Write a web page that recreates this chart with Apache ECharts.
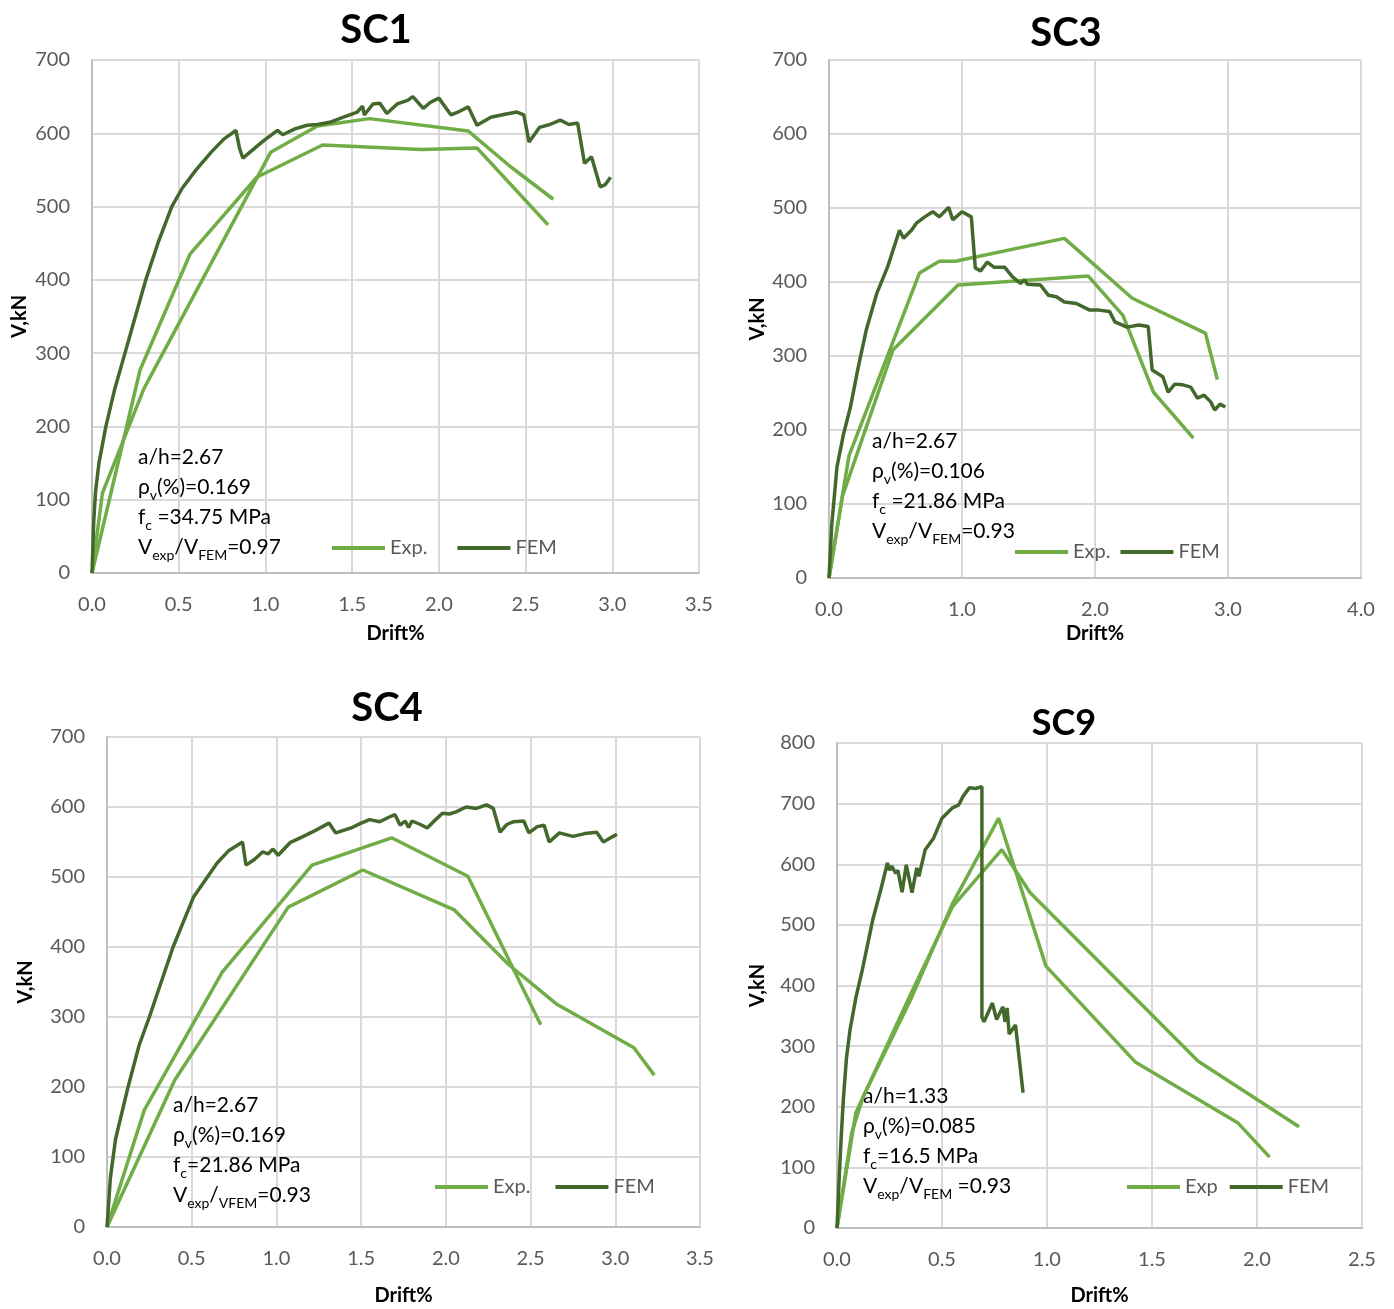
<!DOCTYPE html>
<html>
<head>
    <meta http-equiv="Content-Type" content="text/html; charset=utf-8">
    <title>SC1 SC3 SC4 SC9</title>
    <script src="https://cdn.jsdelivr.net/npm/echarts@6/dist/echarts.min.js"></script>
    <style>
        body {margin:0; background:#fff;}
    </style>
</head>
<body>
    <div id="main" style="width: 1394px;height:1309px;"></div>
    <script type="text/javascript">
        // drift (%) / shear (kN) pairs
        var sc1Exp1 = [[0,0],[0.06,109],[0.3,252],[1.03,574],[1.3,610],[1.6,620],[2.17,603],[2.41,555],[2.66,510]];
        var sc1Exp2 = [[0,0],[0.277,277],[0.565,435],[0.95,540],[1.33,584],[1.9,578],[2.22,580],[2.63,475]];
        var sc1Fem = [[0,0],[0.01,70],[0.02,110],[0.04,150],[0.08,200],[0.13,250],[0.19,300],[0.25,350],[0.31,400],
            [0.38,450],[0.46,500],[0.52,525],[0.6,550],[0.69,575],[0.76,592],[0.83,604],[0.85,580],[0.87,566],
            [0.93,578],[0.99,590],[1.07,604],[1.1,598],[1.17,606],[1.24,611],[1.3,612],[1.37,615],[1.45,622],
            [1.53,629],[1.56,637],[1.57,625],[1.62,640],[1.66,641],[1.7,627],[1.76,640],[1.82,645],[1.85,650],
            [1.91,634],[1.95,642],[2.0,648],[2.07,625],[2.12,630],[2.17,636],[2.22,611],[2.3,622],[2.38,626],
            [2.45,629],[2.49,625],[2.52,588],[2.58,608],[2.64,612],[2.7,618],[2.75,612],[2.8,614],[2.84,559],
            [2.88,568],[2.93,527],[2.96,530],[2.99,540]];

        var sc3Exp1 = [[0,0],[0.15,165],[0.68,412],[0.83,428],[0.95,428],[1.77,459],[2.28,378],[2.83,331],[2.92,268]];
        var sc3Exp2 = [[0,0],[0.1,110],[0.48,308],[0.97,396],[1.95,408],[2.21,355],[2.44,251],[2.74,189]];
        var sc3Fem = [[0,0],[0.02,70],[0.06,150],[0.11,195],[0.16,230],[0.22,285],[0.28,335],[0.36,385],[0.44,420],
            [0.53,470],[0.56,459],[0.62,470],[0.66,480],[0.72,488],[0.78,495],[0.83,488],[0.9,501],[0.93,484],
            [1.0,495],[1.07,488],[1.1,419],[1.14,415],[1.19,427],[1.24,420],[1.32,420],[1.38,407],[1.44,398],
            [1.47,403],[1.49,397],[1.59,396],[1.65,382],[1.71,380],[1.77,373],[1.86,371],[1.96,362],[2.03,362],
            [2.11,360],[2.15,346],[2.24,339],[2.33,342],[2.4,340],[2.43,281],[2.51,272],[2.55,251],[2.6,262],
            [2.66,261],[2.72,258],[2.77,243],[2.82,247],[2.87,238],[2.9,227],[2.94,235],[2.98,231]];

        var sc4Exp1 = [[0,0],[0.22,167],[0.68,364],[1.21,517],[1.68,556],[2.13,501],[2.56,289]];
        var sc4Exp2 = [[0,0],[0.4,210],[1.07,457],[1.51,510],[2.05,453],[2.37,375],[2.65,319],[3.11,256],[3.23,217]];
        var sc4Fem = [[0,0],[0.02,70],[0.05,125],[0.12,196],[0.19,260],[0.25,300],[0.39,400],[0.51,471],[0.65,520],
            [0.72,538],[0.8,550],[0.82,517],[0.87,525],[0.92,536],[0.95,533],[0.98,540],[1.01,531],[1.08,549],
            [1.15,557],[1.21,564],[1.31,577],[1.35,563],[1.4,567],[1.45,571],[1.5,577],[1.55,582],[1.61,579],
            [1.66,585],[1.7,589],[1.73,574],[1.76,580],[1.78,571],[1.8,580],[1.85,575],[1.89,570],[1.94,582],
            [1.98,591],[2.02,590],[2.06,593],[2.12,600],[2.18,598],[2.24,603],[2.28,598],[2.32,564],[2.36,575],
            [2.4,579],[2.46,580],[2.49,563],[2.54,572],[2.58,574],[2.61,550],[2.67,563],[2.75,558],[2.82,562],
            [2.89,564],[2.93,550],[2.98,557],[3.01,561]];

        var sc9Exp1 = [[0,0],[0.07,157],[0.124,216],[0.35,376],[0.55,535],[0.77,676],[0.995,432],[1.42,274],[1.91,173],[2.06,117]];
        var sc9Exp2 = [[0,0],[0.09,190],[0.35,385],[0.55,530],[0.785,624],[0.92,553],[1.72,275],[2.2,167]];
        var sc9Fem = [[0,0],[0.01,80],[0.02,150],[0.03,211],[0.045,280],[0.062,327],[0.09,380],[0.12,425],[0.17,508],
            [0.21,560],[0.24,602],[0.25,590],[0.26,597],[0.28,585],[0.29,590],[0.31,554],[0.33,599],[0.357,553],
            [0.38,594],[0.39,580],[0.42,624],[0.46,643],[0.5,676],[0.55,693],[0.58,698],[0.6,712],[0.63,726],
            [0.66,725],[0.69,728],[0.69,348],[0.7,340],[0.74,371],[0.76,344],[0.79,365],[0.8,340],[0.81,363],
            [0.82,320],[0.85,335],[0.886,223]];

        var titles = ['SC1', 'SC3', 'SC4', 'SC9'];
        var expNames = ['Exp.', 'Exp.', 'Exp.', 'Exp'];
        var xMax = [3.5, 4, 3.5, 2.5];
        var xStep = [0.5, 1, 0.5, 0.5];
        var yMax = [700, 700, 700, 800];
        // n = normal text, s = subscript
        var notes = [
            ['{n|a/h=2.67}', '{n|ρ}{s|v}{n|(%)=0.169}', '{n|f}{s|c}{n| =34.75 MPa}', '{n|V}{s|exp}{n|/V}{s|FEM}{n|=0.97}'],
            ['{n|a/h=2.67}', '{n|ρ}{s|v}{n|(%)=0.106}', '{n|f}{s|c}{n| =21.86 MPa}', '{n|V}{s|exp}{n|/V}{s|FEM}{n|=0.93}'],
            ['{n|a/h=2.67}', '{n|ρ}{s|v}{n|(%)=0.169}', '{n|f}{s|c}{n|=21.86 MPa}', '{n|V}{s|exp}{n|/}{s|VFEM}{n|=0.93}'],
            ['{n|a/h=1.33}', '{n|ρ}{s|v}{n|(%)=0.085}', '{n|f}{s|c}{n|=16.5 MPa}', '{n|V}{s|exp}{n|/V}{s|FEM}{n| =0.93}']
        ];

        var FONT = 'Lato, "Open Sans", sans-serif';
        var EXP_COLOR = '#70AD47';
        var FEM_COLOR = '#43682B';

        // layout of the four panels
        var grids = [
            {left: 92, top: 60, width: 607, height: 513, outerBoundsMode: 'none'},
            {left: 829, top: 60, width: 532, height: 518, outerBoundsMode: 'none'},
            {left: 107, top: 737, width: 593, height: 490, outerBoundsMode: 'none'},
            {left: 837, top: 743, width: 525, height: 485, outerBoundsMode: 'none'}
        ];
        var xNameGap = [51, 46, 59, 58];
        var yNameGap = [62, 61, 71, 69];
        var titlePos = [[376, 30], [1066, 33], [387, 708], [1064, 723]];
        var titleSize = [40, 40, 40, 36];
        var notePos = [[138, 442], [872, 426], [173, 1090], [863, 1081]];
        var legendPos = [[332, 538, 30], [1015, 542, 10], [435, 1177, 25], [1127, 1177, 12]];

        var allData = [
            [sc1Exp1, sc1Exp2, sc1Fem],
            [sc3Exp1, sc3Exp2, sc3Fem],
            [sc4Exp1, sc4Exp2, sc4Fem],
            [sc9Exp1, sc9Exp2, sc9Fem]
        ];

        var xAxes = [], yAxes = [], series = [], legends = [], graphics = [];
        for (var i = 0; i < 4; i++) {
            xAxes.push({
                type: 'value', gridIndex: i, min: 0, max: xMax[i], interval: xStep[i],
                name: 'Drift%', nameLocation: 'middle', nameGap: xNameGap[i],
                nameTextStyle: {fontWeight: 'bold', fontSize: 20, color: '#000', fontFamily: FONT},
                axisLine: {show: true, onZero: false, lineStyle: {color: '#bfbfbf', width: 2}},
                axisTick: {show: false},
                axisLabel: {color: '#595959', fontSize: 20, fontFamily: FONT, margin: 22,
                    formatter: function (v) { return v.toFixed(1); }},
                splitLine: {show: true, lineStyle: {color: '#d9d9d9', width: 2}}
            });
            yAxes.push({
                type: 'value', gridIndex: i, min: 0, max: yMax[i], interval: 100,
                name: 'V,kN', nameLocation: 'middle', nameGap: yNameGap[i],
                nameTextStyle: {fontWeight: 'bold', fontSize: 20, color: '#000', fontFamily: FONT},
                axisLine: {show: true, lineStyle: {color: '#bfbfbf', width: 2}},
                axisTick: {show: false},
                axisLabel: {color: '#595959', fontSize: 20, fontFamily: FONT, margin: 22},
                splitLine: {show: true, lineStyle: {color: '#d9d9d9', width: 2}}
            });
            var d = allData[i];
            series.push({name: expNames[i], type: 'line', xAxisIndex: i, yAxisIndex: i, data: d[0],
                showSymbol: false, symbol: 'none', color: EXP_COLOR, lineStyle: {width: 3.5, color: EXP_COLOR}});
            series.push({name: expNames[i], type: 'line', xAxisIndex: i, yAxisIndex: i, data: d[1],
                showSymbol: false, symbol: 'none', color: EXP_COLOR, lineStyle: {width: 3.5, color: EXP_COLOR}});
            series.push({name: 'FEM', type: 'line', xAxisIndex: i, yAxisIndex: i, data: d[2],
                showSymbol: false, symbol: 'none', color: FEM_COLOR, lineStyle: {width: 3.5, color: FEM_COLOR}});

            legends.push({
                data: [expNames[i], 'FEM'], left: legendPos[i][0], top: legendPos[i][1],
                itemGap: legendPos[i][2], itemWidth: 53, itemHeight: 4, icon: 'rect',
                selectedMode: false, padding: 0,
                textStyle: {color: '#595959', fontSize: 20, fontFamily: FONT}
            });

            graphics.push({
                type: 'text', x: titlePos[i][0], y: titlePos[i][1], z: 1,
                style: {text: titles[i], fill: '#000', font: 'bold ' + titleSize[i] + 'px ' + FONT,
                    align: 'center', verticalAlign: 'middle', textAlign: 'center', textVerticalAlign: 'middle'}
            });

            graphics.push({
                type: 'text', x: notePos[i][0], y: notePos[i][1], z: 1,
                style: {
                    text: notes[i].join('\n'),
                    rich: {
                        n: {fontSize: 21, fontFamily: FONT, fill: '#000', lineHeight: 30, verticalAlign: 'middle'},
                        s: {fontSize: 14, fontFamily: FONT, fill: '#000', lineHeight: 16, verticalAlign: 'bottom'}
                    }
                }
            });
        }

        var myChart = echarts.init(document.getElementById('main'));
        var option = {
            backgroundColor: '#fff',
            animation: false,
            grid: grids,
            xAxis: xAxes,
            yAxis: yAxes,
            legend: legends,
            series: series,
            graphic: graphics
        };
        myChart.setOption(option);
    </script>
</body>
</html>
